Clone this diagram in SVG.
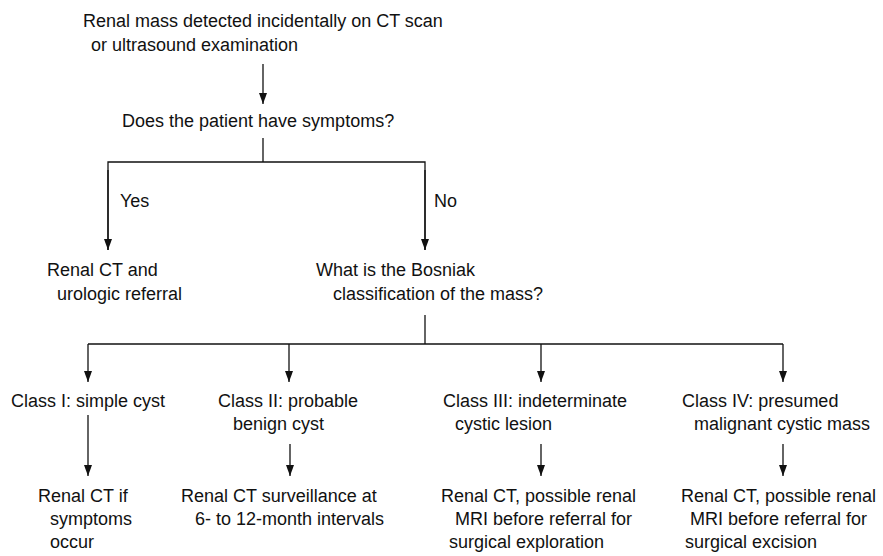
<svg xmlns="http://www.w3.org/2000/svg" width="883" height="556" viewBox="0 0 883 556">
<style>
text{font-family:"Liberation Sans",Arial,sans-serif;font-size:18px;fill:#111}
.c line,.c path{stroke:#111;stroke-width:1.3;fill:none}
</style>
<defs>
<marker id="ah" viewBox="0 0 8 11" refX="4" refY="11" markerWidth="8" markerHeight="11" markerUnits="userSpaceOnUse" orient="auto-start-reverse">
<path d="M0,0 L8,0 L4,11 Z" fill="#111" transform="rotate(0)"/>
</marker>
<marker id="a" viewBox="0 0 11 8" refX="11" refY="4" markerWidth="11" markerHeight="8" markerUnits="userSpaceOnUse" orient="auto">
<path d="M0,0 L11,4 L0,8 Z" fill="#111"/>
</marker>
</defs>
<rect width="883" height="556" fill="#fff"/>
<g class="c" id="connectors">
<line x1="263" y1="64" x2="263" y2="104" marker-end="url(#a)"/>
<line x1="263" y1="138" x2="263" y2="162"/>
<path d="M108,250 V162 H425 V250"/>
<line x1="108" y1="170" x2="108" y2="250" marker-end="url(#a)"/>
<line x1="425" y1="170" x2="425" y2="250" marker-end="url(#a)"/>
<line x1="425" y1="315" x2="425" y2="344"/>
<line x1="88" y1="344" x2="783" y2="344"/>
<line x1="88" y1="344" x2="88" y2="382" marker-end="url(#a)"/>
<line x1="289" y1="344" x2="289" y2="382" marker-end="url(#a)"/>
<line x1="541" y1="344" x2="541" y2="382" marker-end="url(#a)"/>
<line x1="783" y1="344" x2="783" y2="382" marker-end="url(#a)"/>
<line x1="88" y1="415" x2="88" y2="476" marker-end="url(#a)"/>
<line x1="290" y1="444" x2="290" y2="476" marker-end="url(#a)"/>
<line x1="541" y1="444" x2="541" y2="476" marker-end="url(#a)"/>
<line x1="783" y1="444" x2="783" y2="476" marker-end="url(#a)"/>
<text x="120" y="207">Yes</text>
<text x="434" y="207">No</text>
</g>
<g id="start"><text x="83" y="27">Renal mass detected incidentally on CT scan</text><text x="91" y="51">or ultrasound examination</text></g>
<g id="q1"><text x="122" y="127">Does the patient have symptoms?</text></g>
<g id="yes"><text x="47" y="276">Renal CT and</text><text x="57" y="300">urologic referral</text></g>
<g id="q2"><text x="316" y="276">What is the Bosniak</text><text x="333" y="300">classification of the mass?</text></g>
<g id="c1"><text x="11" y="407">Class I: simple cyst</text></g>
<g id="c2"><text x="218" y="407">Class II: probable</text><text x="233" y="430">benign cyst</text></g>
<g id="c3"><text x="443" y="407">Class III: indeterminate</text><text x="455" y="430">cystic lesion</text></g>
<g id="c4"><text x="682" y="407">Class IV: presumed</text><text x="694" y="430">malignant cystic mass</text></g>
<g id="r1"><text x="38" y="502">Renal CT if</text><text x="50" y="525">symptoms</text><text x="50" y="548">occur</text></g>
<g id="r2"><text x="181" y="502">Renal CT surveillance at</text><text x="195" y="525">6- to 12-month intervals</text></g>
<g id="r3"><text x="441" y="502">Renal CT, possible renal</text><text x="455" y="525">MRI before referral for</text><text x="449" y="548">surgical exploration</text></g>
<g id="r4"><text x="681" y="502">Renal CT, possible renal</text><text x="690" y="525">MRI before referral for</text><text x="685" y="548">surgical excision</text></g>
</svg>
